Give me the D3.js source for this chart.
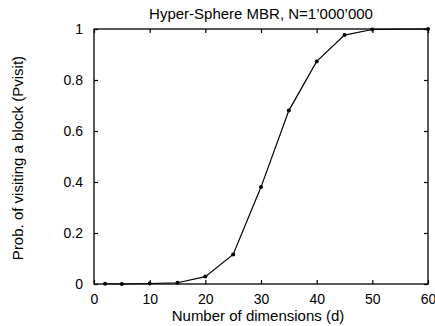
<!DOCTYPE html>
<html>
<head>
<meta charset="utf-8">
<script src="https://cdn.jsdelivr.net/npm/d3@7"></script>
<style>
body { margin: 0; background: #fff; }
text { font-family: "Liberation Sans", Arial, sans-serif; fill: #000; }
</style>
</head>
<body>
<div id="chart"></div>
<script>
var dims = [2, 5, 10, 15, 20, 25, 30, 35, 40, 45, 50, 60]
var pvisit = [0.001, 0.0, 0.002, 0.005, 0.029, 0.116, 0.38, 0.68, 0.873, 0.976, 0.998, 1.0]
var xTicks = [0, 10, 20, 30, 40, 50, 60]
var yTicks = [0, 0.2, 0.4, 0.6, 0.8, 1]

var W = 435, H = 326
var m = {left: 94, right: 7, top: 29, bottom: 42}

var svg = d3.select('#chart').append('svg')
	.attr('width', W)
	.attr('height', H)

var x = d3.scaleLinear().domain([0, 60]).range([m.left, W - m.right])
var y = d3.scaleLinear().domain([0, 1]).range([H - m.bottom, m.top])

// frame
svg.append('rect')
	.attr('x', x(0)).attr('y', y(1))
	.attr('width', x(60) - x(0)).attr('height', y(0) - y(1))
	.attr('fill', 'none').attr('stroke', '#000').attr('stroke-width', 1.3)

// axes with inward ticks
var fmtY = d => d === 0 || d === 1 ? String(d) : d.toFixed(1)
svg.append('g').attr('transform', 'translate(0,' + y(0) + ')')
	.call(d3.axisBottom(x).tickValues(xTicks).tickSizeInner(-4).tickSizeOuter(0).tickPadding(10))
svg.append('g').attr('transform', 'translate(0,' + y(1) + ')')
	.call(d3.axisTop(x).tickValues(xTicks).tickSizeInner(-4).tickSizeOuter(0).tickFormat(''))
svg.append('g').attr('transform', 'translate(' + x(0) + ',0)')
	.call(d3.axisLeft(y).tickValues(yTicks).tickSizeInner(-4).tickSizeOuter(0).tickPadding(11).tickFormat(fmtY))
svg.append('g').attr('transform', 'translate(' + x(60) + ',0)')
	.call(d3.axisRight(y).tickValues(yTicks).tickSizeInner(-4).tickSizeOuter(0).tickFormat(''))

svg.selectAll('.domain').remove()
svg.selectAll('.tick line').attr('stroke', '#000').attr('stroke-width', 1.2)
svg.selectAll('.tick text').style('font-size', '14px').attr('fill', '#000')

// line + markers
var line = d3.line().x((d, i) => x(dims[i])).y(d => y(d))
svg.append('path')
	.datum(pvisit)
	.attr('d', line)
	.attr('fill', 'none')
	.attr('stroke', '#000')
	.attr('stroke-width', 1.2)
svg.append('g').selectAll('circle')
	.data(pvisit)
	.join('circle')
	.attr('cx', (d, i) => x(dims[i]))
	.attr('cy', d => y(d))
	.attr('r', 2)
	.attr('fill', '#000')

// labels
svg.append('text')
	.attr('x', (x(0) + x(60)) / 2).attr('y', 19)
	.attr('text-anchor', 'middle')
	.style('font-size', '15px')
	.text('Hyper-Sphere MBR, N=1\u2019000\u2019000')
svg.append('text')
	.attr('x', (x(0) + x(60)) / 2 - 3).attr('y', 321)
	.attr('text-anchor', 'middle')
	.style('font-size', '15px')
	.text('Number of dimensions (d)')
svg.append('text')
	.attr('transform', 'translate(23,158) rotate(-90)')
	.attr('text-anchor', 'middle')
	.style('font-size', '15px')
	.text('Prob. of visiting a block (Pvisit)')
</script>
</body>
</html>
